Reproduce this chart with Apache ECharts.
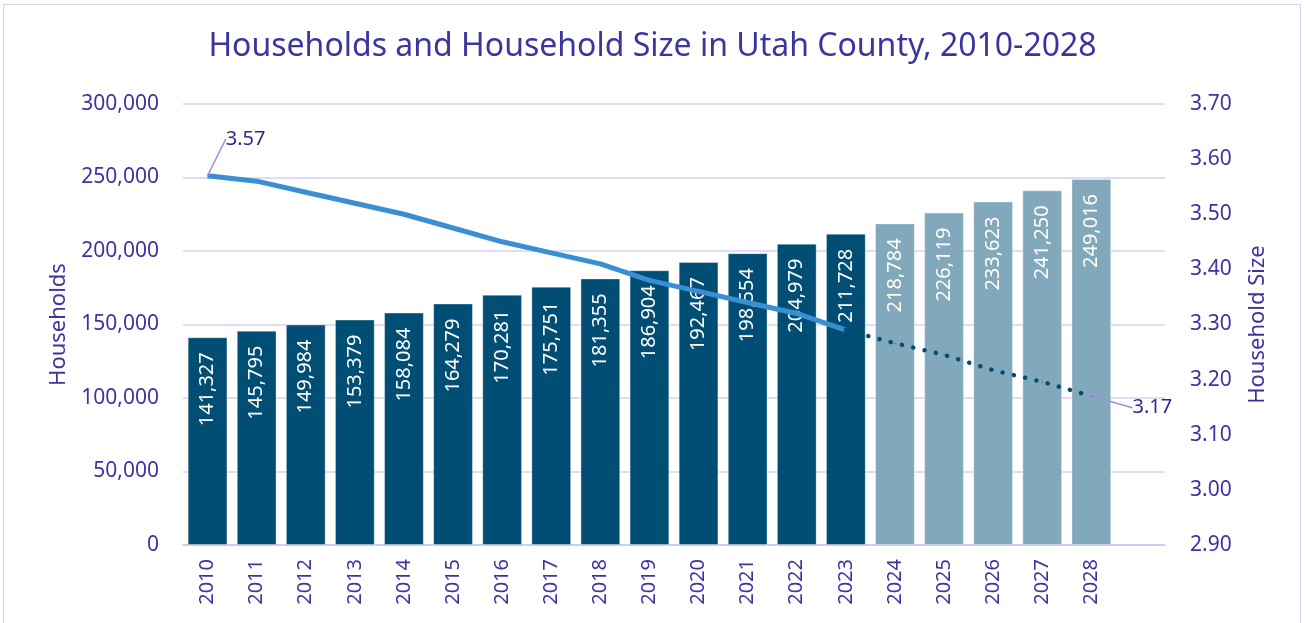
<!DOCTYPE html>
<html>
<head>
<meta charset="utf-8">
<script src="https://cdn.jsdelivr.net/npm/echarts@6/dist/echarts.min.js"></script>
<style>
html, body { margin: 0; padding: 0; background: #fff; }
#frame { position: absolute; left: 3px; top: 4px; width: 1298px; height: 640px; border: 1px solid #d6d2f0; box-sizing: border-box; }
#myChart { position: absolute; left: 0; top: 0; width: 1305px; height: 623px; }
</style>
</head>
<body>
<div id="frame"></div>
<div id="myChart"></div>
<script>
var years = ['2010', '2011', '2012', '2013', '2014', '2015', '2016', '2017', '2018', '2019',
    '2020', '2021', '2022', '2023', '2024', '2025', '2026', '2027', '2028'];
// households, estimates through 2023, projections after
var households = [141327, 145795, 149984, 153379, 158084, 164279, 170281, 175751, 181355, 186904,
    192467, 198554, 204979, 211728, 218784, 226119, 233623, 241250, 249016];
var firstProjected = 14;
// household size
var sizeActual = [3.57, 3.56, 3.54, 3.52, 3.50, 3.475, 3.45, 3.43, 3.41, 3.38, 3.36, 3.34, 3.32, 3.29];
var sizeProjected = [3.29, 3.266, 3.245, 3.217, 3.196, 3.17];
var leftTicks = [0, 50000, 100000, 150000, 200000, 250000, 300000];

var txt = '#3b35a0';
var font = 'Noto Sans';
var grid = '#d4d0f0';

var myChart = echarts.init(document.getElementById('myChart'));

// the axis in the original has one empty slot after 2028
var axisCats = years.concat(['']);

var barData = households.map(function (v, i) {
    return {
        value: v,
        itemStyle: { color: i >= firstProjected ? '#82a8bb' : '#004e74' }
    };
});

var actualLine = years.map(function (y, i) {
    if (i >= sizeActual.length) return '-';
    var d = { value: sizeActual[i] };
    if (i == 0) d.label = { show: true };
    return d;
});
var projLine = years.map(function (y, i) {
    var k = i - (sizeActual.length - 1);
    if (k < 0) return '-';
    var d = { value: sizeProjected[k] };
    if (k == sizeProjected.length - 1) d.label = { show: true };
    return d;
});

myChart.setOption({
    animation: false,
    textStyle: { fontFamily: font },
    title: {
        text: 'Households and Household Size in Utah County, 2010-2028',
        left: 'center', top: 26,
        textStyle: { color: txt, fontSize: 32, fontWeight: 'normal', fontFamily: font }
    },
    grid: { left: 183, right: 140, top: 104, bottom: 78 },
    xAxis: {
        type: 'category', data: axisCats, boundaryGap: true,
        axisLine: { lineStyle: { color: '#cbc6ee', width: 1.5 } },
        axisTick: { show: false },
        axisLabel: { rotate: 90, color: txt, fontSize: 20, margin: 14 }
    },
    yAxis: [
        {
            type: 'value', min: leftTicks[0], max: leftTicks[leftTicks.length - 1], interval: 50000,
            name: 'Households', nameLocation: 'middle', nameGap: 113,
            nameTextStyle: { color: txt, fontSize: 22 },
            axisLine: { show: false }, axisTick: { show: false },
            axisLabel: { color: txt, fontSize: 21, margin: 24, formatter: function (v) { return v.toLocaleString('en-US'); } },
            splitLine: { lineStyle: { color: grid, width: 1.5 } }
        },
        {
            type: 'value', min: 2.9, max: 3.7, interval: 0.1,
            name: 'Household Size', nameLocation: 'middle', nameGap: 82,
            nameRotate: 90,
            nameTextStyle: { color: txt, fontSize: 22 },
            axisLine: { show: false }, axisTick: { show: false },
            axisLabel: { color: txt, fontSize: 21, margin: 25, formatter: function (v) { return v.toFixed(2); } },
            splitLine: { show: false }
        }
    ],
    series: [
        {
            name: 'Households', type: 'bar', data: barData, barWidth: '81%',
            itemStyle: { borderColor: 'rgba(255,255,255,0.35)', borderWidth: 1 },
            label: {
                show: true, position: 'insideTop', rotate: 90, align: 'right', verticalAlign: 'middle',
                distance: 15, color: '#fff', fontSize: 20,
                formatter: function (p) { return p.value.toLocaleString('en-US'); }
            }
        },
        {
            name: 'Household Size', type: 'line', yAxisIndex: 1, data: actualLine,
            symbol: 'circle', symbolSize: 1, showSymbol: true,
            itemStyle: { color: '#3a8fd2' },
            lineStyle: { color: '#3a8fd2', width: 5 },
            label: { show: false, color: '#2e2a8a', fontSize: 20, formatter: function (p) { return p.value.toFixed(2); } },
            labelLayout: { dx: 38, dy: -21 },
            labelLine: { show: true, lineStyle: { color: '#9b8fe0', width: 1.5 } },
            z: 5
        },
        {
            name: 'Household Size projected', type: 'line', yAxisIndex: 1, data: projLine,
            symbol: 'circle', symbolSize: 1, showSymbol: true,
            itemStyle: { color: '#004e74' },
            lineStyle: { color: '#004e74', width: 4.5, type: [0.1, 11.5], cap: 'round' },
            label: { show: false, color: '#2e2a8a', fontSize: 20, formatter: function (p) { return p.value.toFixed(2); } },
            labelLayout: { dx: 61, dy: 27 },
            labelLine: { show: true, lineStyle: { color: '#9b8fe0', width: 1.5 } },
            z: 5
        }
    ]
});
window.onresize = myChart.resize;
</script>
</body>
</html>
